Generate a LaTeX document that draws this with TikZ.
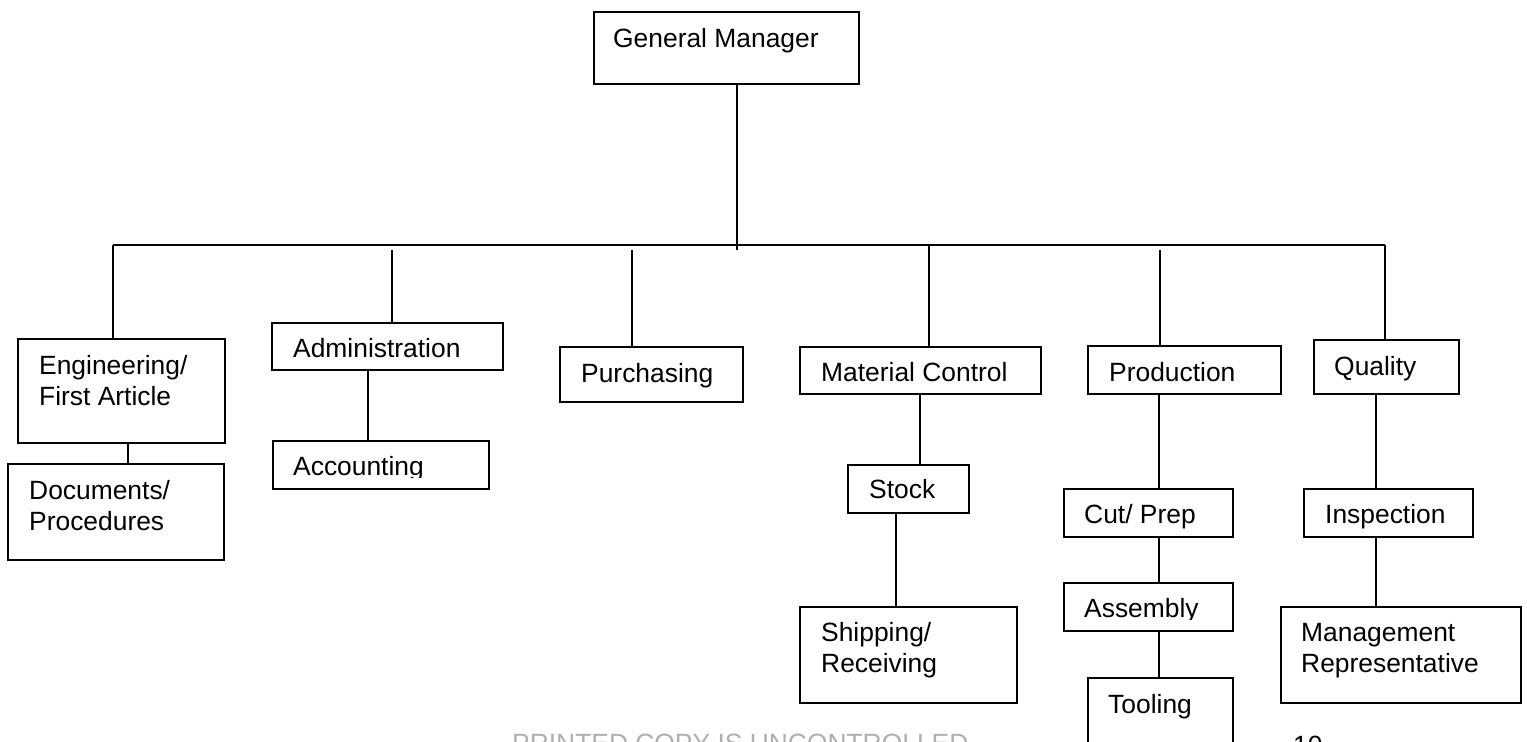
\documentclass[tikz,border=0pt]{standalone}
\usepackage{fontspec}
\setmainfont{Liberation Sans}
\usepackage{tikz}
\definecolor{footgray}{RGB}{175,175,175}
\tikzstyle{unit}=[draw,rectangle,line width=1.8pt,inner sep=0pt,anchor=north west]
\tikzstyle{lbl}=[inner sep=0pt,anchor=base west,align=left,font=\fontsize{26.4}{30.5}\selectfont]
\tikzstyle{link}=[draw,line width=1.8pt]

\begin{document}
\begin{tikzpicture}[x=1pt,y=-1pt]
    \path[use as bounding box] (0,0) rectangle (1527,742);
    \clip (0,0) rectangle (1527,742);
    % boxes: name/left/top/width/height
    \foreach \name/\x/\y/\w/\h in {gm/593/11/265/72, eng/17/338/207/104, docs/7/463/216/96,
        adm/271/322/231/47, acct/272/440/216/48, purch/559/346/183/55,
        mat/799/346/241/47, stock/847/464/121/48, ship/799/606/217/96,
        prod/1087/345/193/48, cut/1063/488/169/48, asm/1063/582/169/48, tool/1087/677/145/90,
        qual/1313/339/145/54, insp/1303/488/169/48, mgmt/1280/606/240/96}
        \node[unit, minimum width=\w, minimum height=\h] (\name) at (\x,\y) {};
    % texts (two-line texts sit on their last baseline)
    \node[lbl] (gmtext) at (613,47) {General Manager};
    \node[lbl] (engtext) at (39,405) {Engineering/\\First Article};
    \node[lbl] (docstext) at (29,530) {Documents/\\Procedures};
    \node[lbl] (admtext) at (293,357) {Administration};
    \begin{scope}
        \clip (acct.north west) rectangle (acct.east |- 0,477);
        \node[lbl] (accttext) at (293,475) {Accounting};
    \end{scope}
    \node[lbl] (purchtext) at (581,382) {Purchasing};
    \node[lbl] (mattext) at (821,381) {Material Control};
    \node[lbl] (stocktext) at (869,498) {Stock};
    \node[lbl] (shiptext) at (821,672) {Shipping/\\Receiving};
    \node[lbl] (prodtext) at (1109,381) {Production};
    \node[lbl] (cuttext) at (1084,523) {Cut/ Prep};
    \begin{scope}
        \clip (asm.north west) rectangle (asm.east |- 0,619);
        \node[lbl] (asmtext) at (1084,617) {Assembly};
    \end{scope}
    \node[lbl] (tooltext) at (1108,713) {Tooling};
    \node[lbl] (qualtext) at (1334,375) {Quality};
    \node[lbl] (insptext) at (1325,523) {Inspection};
    \node[lbl] (mgmttext) at (1301,672) {Management\\Representative};
    \node[lbl, text=footgray] (foot) at (512,752) {PRINTED COPY IS UNCONTROLLED};
    \node[lbl] (page) at (1293,754) {10};
    % bus
    \coordinate (busw) at (113,245);
    \coordinate (buse) at (1385,245);
    \coordinate (gmfoot) at (737,250);
    \path[link] (busw) -- (buse);
    \path[link] (gm.south -| gmfoot) -- (gmfoot);
    \foreach \dest/\x/\gap in {eng/113/0, adm/392/5, purch/632/5, mat/929/0, prod/1160/5, qual/1385/0}
    {
        \coordinate (\dest top) at (\x,245+\gap);
        \path[link] (\dest top) -- (\dest top |- \dest.north);
    }
    % lower links
    \foreach \source/\dest/\x in {eng/docs/128, adm/acct/368, mat/stock/920, stock/ship/896,
        prod/cut/1159, cut/asm/1159, asm/tool/1159, qual/insp/1376, insp/mgmt/1376}
        \path[link] (\source.south -| \x,0) -- (\dest.north -| \x,0);
\end{tikzpicture}
\end{document}
